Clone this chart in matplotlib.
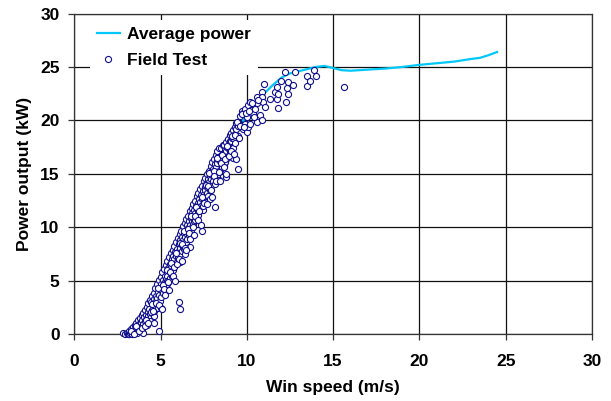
import matplotlib
matplotlib.use('Agg')
import matplotlib.pyplot as plt

wind_speed = [
    2.85, 2.95, 3.05, 3.1, 3.15, 3.2, 3.2, 3.25, 3.3, 3.3,
    3.35, 3.4, 3.4, 3.45, 3.5, 3.5, 3.55, 3.6, 3.6, 3.65,
    3.65, 3.7, 3.7, 3.75, 3.8, 3.8, 3.85, 3.9, 3.9, 3.95,
    3.95, 4.0, 4.0, 4.0, 4.05, 4.1, 4.1, 4.15, 4.2, 4.2,
    4.2, 4.25, 4.3, 4.3, 4.35, 4.4, 4.4, 4.45, 4.45, 4.5,
    4.5, 4.55, 4.55, 4.6, 4.6, 4.6, 4.65, 4.65, 4.7, 4.7,
    4.75, 4.75, 4.8, 4.8, 4.8, 4.85, 4.85, 4.9, 4.9, 4.93,
    4.95, 4.95, 5.0, 5.0, 5.0, 5.05, 5.05, 5.1, 5.1, 5.15,
    5.15, 5.2, 5.2, 5.2, 5.25, 5.25, 5.3, 5.3, 5.35, 5.35,
    5.4, 5.4, 5.4, 5.45, 5.45, 5.5, 5.5, 5.55, 5.55, 5.6,
    5.6, 5.6, 5.65, 5.65, 5.7, 5.7, 5.75, 5.75, 5.8, 5.8,
    5.8, 5.85, 5.85, 5.9, 5.9, 5.95, 5.95, 6.0, 6.0, 6.0,
    6.05, 6.05, 6.1, 6.1, 6.1, 6.15, 6.15, 6.15, 6.2, 6.2,
    6.25, 6.25, 6.3, 6.3, 6.3, 6.35, 6.35, 6.4, 6.4, 6.4,
    6.45, 6.45, 6.5, 6.5, 6.55, 6.55, 6.55, 6.6, 6.6, 6.65,
    6.65, 6.7, 6.7, 6.7, 6.7, 6.75, 6.75, 6.8, 6.8, 6.85,
    6.85, 6.9, 6.9, 6.9, 6.95, 6.95, 7.0, 7.0, 7.0, 7.05,
    7.05, 7.1, 7.1, 7.15, 7.15, 7.2, 7.2, 7.2, 7.25, 7.25,
    7.3, 7.3, 7.35, 7.35, 7.4, 7.4, 7.4, 7.45, 7.45, 7.5,
    7.5, 7.5, 7.55, 7.55, 7.6, 7.6, 7.65, 7.65, 7.7, 7.7,
    7.7, 7.75, 7.75, 7.8, 7.8, 7.85, 7.85, 7.85, 7.9, 7.9,
    7.95, 7.95, 8.0, 8.0, 8.05, 8.05, 8.1, 8.1, 8.15, 8.15,
    8.15, 8.2, 8.2, 8.25, 8.25, 8.3, 8.3, 8.35, 8.35, 8.4,
    8.4, 8.4, 8.45, 8.45, 8.5, 8.5, 8.55, 8.55, 8.6, 8.6,
    8.65, 8.65, 8.7, 8.7, 8.7, 8.75, 8.75, 8.8, 8.8, 8.8,
    8.85, 8.85, 8.9, 8.9, 8.95, 8.95, 9.0, 9.0, 9.0, 9.05,
    9.05, 9.1, 9.1, 9.15, 9.15, 9.2, 9.2, 9.2, 9.2, 9.3,
    9.3, 9.3, 9.4, 9.4, 9.4, 9.5, 9.5, 9.5, 9.6, 9.6,
    9.7, 9.7, 9.8, 9.8, 9.9, 9.9, 10.0, 10.0, 10.08, 10.08,
    10.18, 10.18, 10.26, 10.37, 10.47, 10.57, 10.57, 10.57, 10.76, 10.86,
    10.86, 10.86, 10.95, 11.0, 11.05, 11.34, 11.63, 11.73, 11.73, 11.78,
    11.82, 12.0, 12.2, 12.25, 12.3, 12.4, 12.4, 12.69, 12.79, 13.46,
    13.5, 13.65, 13.9, 14.0, 15.64,
    4.38, 4.52, 4.61, 4.74, 4.83, 4.91, 5.07, 5.13, 5.18, 5.27,
    5.36, 5.43, 5.51, 5.57, 5.63, 5.71, 5.77, 5.86, 5.92, 5.98,
    6.07, 6.13, 6.22, 6.27, 6.34, 6.42, 6.48, 6.57, 6.63, 6.72,
    6.78, 6.87, 6.93, 7.02, 7.08, 7.17, 7.23, 7.32, 7.38, 7.47,
    7.53, 7.62, 7.68, 7.77, 7.83, 7.92, 7.98, 8.07, 8.12, 8.22,
    8.28, 8.37, 8.42, 8.52, 8.58, 8.67, 8.73, 8.82, 8.88, 8.97,
    9.07, 9.12, 9.24, 9.33, 9.42, 9.55, 9.63, 9.74, 9.85, 9.95,
    10.12, 10.31, 10.42, 10.66, 3.58, 3.28, 3.48, 3.78, 3.92, 4.08,
    4.18, 4.28, 4.47, 4.58,
]
power = [
    0.1, 0.05, 0.1, 0.05, 0.15, 0.05, 0.3, 0.1, 0.2, 0.5,
    0.05, 0.35, 0.7, 0.15, 0.5, 0.9, 0.25, 0.6, 1.1, 0.1,
    0.8, 0.45, 1.3, 0.95, 0.6, 1.5, 1.1, 0.8, 1.8, 0.35,
    1.35, 0.15, 1.0, 2.0, 1.6, 1.2, 2.3, 1.85, 0.9, 1.5,
    2.6, 2.1, 1.7, 2.9, 2.4, 1.9, 3.2, 3.0, 1.6, 2.3,
    3.6, 1.9, 2.8, 2.7, 3.9, 1.7, 3.3, 2.2, 3.0, 4.3,
    2.6, 3.6, 3.4, 4.7, 2.9, 4.0, 2.5, 3.7, 5.1, 0.33,
    4.4, 3.1, 4.1, 5.4, 2.45, 4.7, 3.5, 4.4, 5.8, 5.1,
    3.9, 4.8, 6.1, 4.2, 5.5, 4.4, 5.2, 6.5, 5.8, 4.7,
    5.5, 6.9, 5.0, 6.2, 4.9, 5.9, 7.2, 6.6, 5.3, 6.3,
    7.6, 5.7, 7.0, 5.5, 6.6, 7.9, 7.3, 6.0, 7.0, 8.3,
    6.4, 7.7, 6.5, 7.3, 8.6, 8.0, 6.8, 7.7, 9.0, 7.1,
    8.4, 3.0, 8.1, 9.4, 6.8, 8.8, 7.5, 2.4, 8.4, 9.7,
    9.1, 7.8, 8.8, 10.1, 8.2, 9.5, 8.0, 9.1, 10.4, 7.55,
    9.8, 8.6, 9.5, 10.8, 10.2, 8.9, 8.05, 9.9, 11.1, 10.6,
    9.3, 10.2, 11.5, 9.6, 8.2, 10.9, 9.8, 10.6, 11.8, 11.3,
    10.0, 10.9, 12.2, 10.3, 11.6, 10.6, 11.3, 12.5, 10.7, 12.0,
    11.0, 11.7, 12.9, 12.3, 11.2, 12.0, 13.2, 11.5, 12.7, 11.8,
    12.4, 13.6, 13.0, 12.0, 12.7, 13.9, 9.7, 13.4, 11.6, 13.1,
    14.3, 12.4, 13.8, 12.6, 13.5, 14.6, 14.1, 12.9, 13.8, 15.0,
    13.2, 14.5, 12.9, 14.2, 15.3, 14.8, 13.5, 12.7, 14.5, 15.7,
    15.2, 13.9, 14.9, 16.1, 15.5, 14.3, 15.3, 16.4, 15.9, 14.1,
    11.95, 15.6, 16.8, 16.2, 14.8, 16.0, 17.1, 16.6, 15.2, 16.3,
    17.4, 14.4, 16.5, 15.4, 16.3, 17.4, 16.8, 15.6, 16.7, 17.7,
    16.9, 15.7, 16.7, 17.7, 15.9, 17.2, 16.1, 17.1, 18.0, 14.75,
    17.5, 16.5, 17.4, 18.3, 17.8, 16.8, 17.8, 18.6, 17.0, 18.1,
    17.1, 18.1, 18.8, 18.4, 17.4, 18.4, 19.1, 17.4, 16.5, 18.7,
    19.4, 17.9, 19.2, 19.8, 16.4, 19.5, 18.5, 15.5, 19.7, 20.4,
    19.6, 20.9, 20.65, 19.2, 21.1, 19.7, 18.95, 20.3, 21.4, 19.4,
    21.7, 19.7, 21.0, 20.65, 21.1, 21.6, 22.2, 19.9, 20.5, 22.7,
    22.2, 20.0, 21.7, 23.4, 21.3, 22.05, 22.7, 23.1, 22.05, 21.2,
    22.5, 23.7, 24.55, 21.7, 23.0, 23.6, 22.5, 23.3, 24.5, 24.2,
    23.2, 23.7, 24.7, 24.2, 23.1,
    1.2, 2.8, 1.1, 2.95, 4.3, 2.7, 2.35, 4.65, 4.25, 3.65,
    6.0, 4.85, 4.15, 5.85, 6.65, 5.45, 6.25, 5.0, 7.6, 6.6,
    7.05, 8.55, 6.9, 8.45, 9.7, 8.1, 7.9, 9.85, 9.45, 8.9,
    11.1, 10.0, 9.25, 11.05, 11.9, 10.7, 11.55, 10.25, 12.85, 12.0,
    12.3, 13.95, 12.15, 13.85, 15.1, 13.5, 12.85, 15.25, 14.85, 14.3,
    16.5, 15.2, 14.35, 16.05, 16.8, 15.6, 16.35, 15.0, 17.6, 16.7,
    17.1, 18.55, 16.9, 18.6, 19.9, 18.4, 19.45, 20.6, 19.4, 20.7,
    20.9, 21.6, 20.3, 21.9, 0.75, 0.35, 0.05, 0.3, 0.55, 0.75,
    1.3, 1.05, 2.05, 2.15,
]

# binned average power curve
avg_speed = [3.0, 3.5, 4.0, 4.5, 5.0, 5.5, 6.0, 6.5, 7.0, 7.5, 8.0, 8.5,
             9.0, 9.5, 10.0, 10.5, 11.0, 11.5, 12.0, 12.5, 13.0, 13.5,
             14.0, 14.5, 15.0, 15.5, 16.0, 16.5, 17.0, 18.0, 19.0, 20.0,
             21.0, 22.0, 23.0, 23.5, 24.0, 24.5]
avg_power = [0.1, 0.6, 1.8, 3.3, 5.0, 6.6, 8.3, 10.0, 11.6, 13.3, 14.9, 16.3,
             17.8, 19.4, 20.4, 21.5, 22.5, 23.3, 24.0, 24.4, 24.6, 24.8,
             25.0, 25.1, 24.9, 24.7, 24.65, 24.7, 24.75, 24.85, 25.0, 25.2,
             25.35, 25.5, 25.75, 25.85, 26.1, 26.4]

ticks = [0, 5, 10, 15, 20, 25, 30]

plt.rcParams['font.family'] = ['Liberation Sans', 'DejaVu Sans']
plt.rcParams['font.weight'] = 'bold'
plt.rcParams['font.size'] = 12.5

fig = plt.figure(figsize=(6.11, 4.01), dpi=100)
ax = fig.add_axes([0.1215, 0.1663, 0.8474, 0.80])

ax.plot(avg_speed, avg_power, '-', color='#00C8F8', lw=1.6,
        label='Average power', zorder=2)
ax.plot(wind_speed, power, 'o', ls='none', mfc='white', mec='#10108C',
        ms=4.4, mew=0.8, label='Field Test', zorder=3, clip_on=False)

ax.set_xlim(0, 30)
ax.set_ylim(0, 30)
ax.set_xticks(ticks)
ax.set_yticks(ticks)
ax.set_xticklabels([str(t) for t in ticks], fontweight='bold')
ax.set_yticklabels([str(t) for t in ticks], fontweight='bold')
ax.grid(True, color='#111111', lw=0.9, zorder=1)
ax.set_axisbelow(True)
for s in ax.spines.values():
    s.set_color('#333333')
    s.set_linewidth(0.9)
ax.tick_params(direction='out', length=4, width=0.9, color='#333333')
ax.tick_params(axis='x', pad=10.5)
ax.tick_params(axis='y', pad=6.5)

ax.set_xlabel('Win speed (m/s)', fontweight='bold', labelpad=7.5)
ax.set_ylabel('Power output (kW)', fontweight='bold', labelpad=6)

leg = ax.legend(loc='upper left', bbox_to_anchor=(0.03, 0.98),
                borderaxespad=0, borderpad=0.4, frameon=True, fancybox=False,
                edgecolor='none', facecolor='white', framealpha=1,
                handlelength=1.35, handletextpad=0.4, labelspacing=0.62,
                numpoints=1, prop={'weight': 'bold', 'size': 12.5})

fig.savefig('out.png', dpi=100)
